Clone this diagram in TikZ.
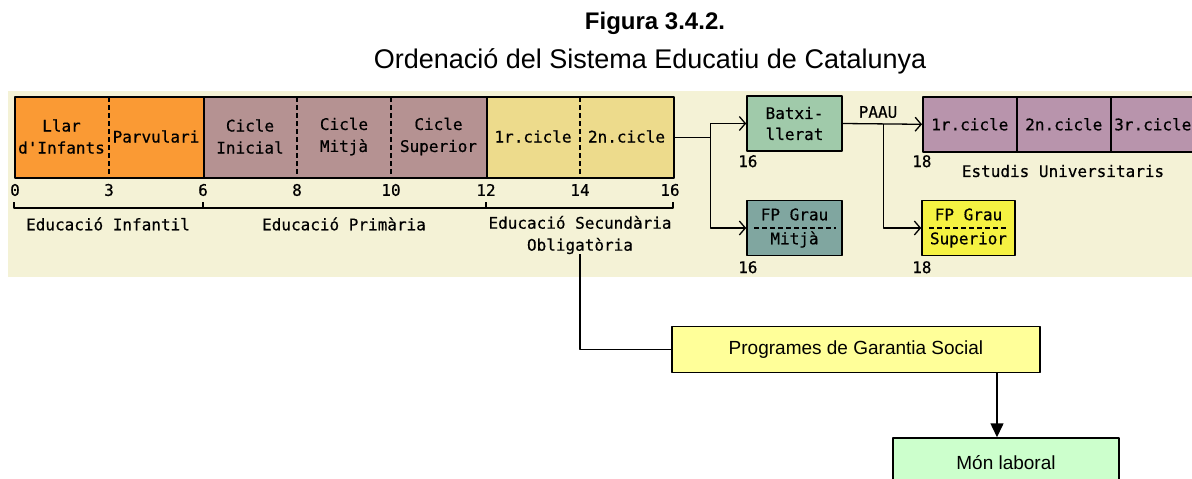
\documentclass[tikz,border=0pt]{standalone}
\usepackage{fontspec}
\setmainfont{Liberation Sans}
\newfontfamily\pixfont[FakeBold=0.5]{DejaVu Sans Mono}
\usetikzlibrary{arrows.meta}
\definecolor{panel}{RGB}{244,242,214}
\definecolor{infantil}{RGB}{250,154,52}
\definecolor{primaria}{RGB}{181,146,146}
\definecolor{secundaria}{RGB}{237,219,140}
\definecolor{batx}{RGB}{160,202,170}
\definecolor{fpmig}{RGB}{128,166,160}
\definecolor{fpsup}{RGB}{245,242,66}
\definecolor{univ}{RGB}{184,148,172}
\definecolor{garantia}{RGB}{255,255,153}
\definecolor{laboral}{RGB}{204,255,204}
\tikzset{
	etapa/.style={draw, line width=1.6pt, anchor=north west, minimum height=81pt, inner sep=0pt},
	cel/.style={font=\pixfont\fontsize{16}{22}\selectfont, align=center, inner sep=0pt},
	caixa/.style={draw, line width=1.6pt, minimum width=95pt, minimum height=55pt, align=center, inner sep=0pt, font=\pixfont\fontsize{16}{21}\selectfont},
	ratlla/.style={line width=1.3pt, dash pattern=on 5pt off 3pt},
	fletxa/.style={line width=1.3pt, -{Straight Barb[length=6pt,width=14pt]}},
	gran/.style={draw, line width=1.5pt, font=\fontsize{19}{22}\selectfont},
}
\begin{document}
\begin{tikzpicture}[x=1pt, y=-1pt, line join=round]
	\useasboundingbox (0,0) rectangle (1192,479);
	\node[font=\bfseries\fontsize{24}{28}\selectfont, anchor=base] (tit) at (655,30) {Figura 3.4.2.};
	\node[font=\fontsize{27}{30}\selectfont, anchor=base] (subtit) at (650,68) {Ordenació del Sistema Educatiu de Catalunya};
	\fill[panel] (8,91) rectangle (1192,277);
	% etapes
	\node[etapa, fill=infantil, minimum width=189pt] (inf) at (14,96) {};
	\node[etapa, fill=primaria, minimum width=283pt] (pri) at (203,96) {};
	\node[etapa, fill=secundaria, minimum width=187pt] (sec) at (486,96) {};
	\foreach \x in {109,297,391,580} \draw[ratlla] (\x,97) -- (\x,176);
	\foreach \x/\t [count=\i] in {61.5/{Llar\\d'Infants}, 156/Parvulari, 250/{Cicle\\Inicial}, 344/{Cicle\\Mitjà}, 438.5/{Cicle\\Superior}, 533/1r.cicle, 626.5/2n.cicle}
		\node[cel] (c\i) at (\x,136.5) {\t};
	\foreach \x/\a in {15/0,109/3,203/6,297/8,391/10,486/12,580/14,670/16}
		\node[cel] (e\a) at (\x,190) {\a};
	\draw[line width=1.3pt] (14,202) -- (14,208) -- (673,208) -- (673,202) (203,208) -- (203,202) (486,208) -- (486,202);
	\path
	(108,224) node[cel] (einf) {Educació Infantil}
	(344,224) node[cel] (epri) {Educació Primària}
	(580,235) node[cel] (obl) {Educació Secundària\\Obligatòria};
	% post-obligatori
	\node[caixa, fill=batx] (batx) at (794.5,123.5) {Batxi-\\llerat};
	\node[caixa, fill=fpmig] (fpm) at (794.5,228) {FP Grau\\[3pt]Mitjà};
	\node[caixa, fill=fpsup, minimum width=93pt] (fps) at (968.5,228) {FP Grau\\[3pt]Superior};
	\draw[ratlla] ([xshift=8pt]fpm.west) -- ([xshift=-7pt]fpm.east);
	\draw[ratlla] ([xshift=8pt]fps.west) -- ([xshift=-7pt]fps.east);
	\foreach \x/\w/\t [count=\i] in {922/94/1r.cicle, 1016/94/2n.cicle, 1110/84/3r.cicle}
		\node[caixa, fill=univ, minimum width=\w pt, anchor=north west] (u\i) at (\x,96) {\t};
	\coordinate (nus) at ([xshift=36pt]sec.east);
	\draw[line width=1.3pt] (sec.east) -- (nus);
	\draw[fletxa] (nus) |- (batx.west);
	\draw[fletxa] (nus) |- (fpm.west);
	\coordinate (paau) at ([xshift=41pt]batx.east);
	\draw[fletxa] (batx.east) -- (u1.west);
	\draw[fletxa] (paau) |- (fps.west);
	\path
	(878,112) node[cel] (lpaau) {PAAU}
	(738,155) node[cel, anchor=north west] (n16a) {16}
	(738,261) node[cel, anchor=north west] (n16b) {16}
	(912,155) node[cel, anchor=north west] (n18a) {18}
	(912,261) node[cel, anchor=north west] (n18b) {18}
	(1063,171) node[cel] (eu) {Estudis Universitaris};
	% sortides
	\node[gran, fill=garantia, minimum width=368pt, minimum height=46pt] (pgs) at (856,349.5) {Programes de Garantia Social};
	\node[gran, fill=laboral, minimum width=226pt, minimum height=50pt] (mon) at (1006,463) {Món laboral};
	\draw[line width=1.5pt] (obl.south) |- (pgs.west);
	\draw[line width=1.5pt, -{Triangle[length=14pt,width=13pt]}] ([xshift=141pt]pgs.south) -- ([xshift=-9pt]mon.north);
\end{tikzpicture}
\end{document}
